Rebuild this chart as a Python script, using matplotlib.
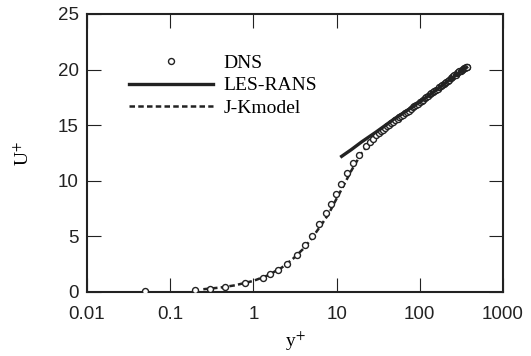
import numpy as np
import matplotlib
matplotlib.use("Agg")
import matplotlib.pyplot as plt
from matplotlib.ticker import NullLocator, FixedLocator, FixedFormatter

#-------------------#
# Data
#-------------------#
dns_y = [0.05, 0.2, 0.3, 0.45, 0.8, 1.3, 1.6, 2.0, 2.5, 3.3, 4.2, 5.0, 6.2, 7.5,
         8.5, 9.8, 11.2, 13.2, 15.9, 18.7, 22.4, 25.0, 27.5, 30.0, 32.0, 34.0,
         36.0, 38.0, 40.5, 43.0, 45.5, 48.0, 51.0, 54.0, 57.0, 60.0, 63.5, 67.0,
         70.5, 74.0, 78.0, 82.0, 86.0, 90.0, 95.0, 100.0, 105.0, 110.0, 115.0,
         120.0, 126.0, 132.0, 138.0, 144.0, 150.0, 157.0, 164.0, 171.0, 178.0,
         185.0, 193.0, 201.0, 209.0, 217.0, 225.0, 234.0, 243.0, 252.0, 261.0,
         270.0, 280.0, 290.0, 300.0, 310.0, 320.0, 330.0, 340.0, 350.0, 358.0,
         365.0, 372.0]
dns_u = [0.05, 0.2, 0.3, 0.45, 0.8, 1.3, 1.6, 2.0, 2.5, 3.3, 4.2, 5.0, 6.1, 7.1,
         7.9, 8.8, 9.7, 10.7, 11.6, 12.3, 13.1, 13.5, 13.8, 14.1, 14.3, 14.45,
         14.6, 14.75, 14.9, 15.05, 15.2, 15.3, 15.45, 15.6, 15.7, 15.8, 15.95, 16.1,
         16.2, 16.3, 16.45, 16.6, 16.7, 16.8, 16.95, 17.1, 17.2, 17.3, 17.45,
         17.55, 17.65, 17.8, 17.9, 18.0, 18.1, 18.2, 18.3, 18.4, 18.5,
         18.6, 18.7, 18.8, 18.9, 19.0, 19.1, 19.2, 19.3, 19.4, 19.5,
         19.55, 19.65, 19.75, 19.85, 19.9, 20.0, 20.05, 20.1, 20.15, 20.2,
         20.25, 20.25]

les_y = [11.5, 15.0, 20.0, 30.0, 50.0, 80.0, 120.0, 180.0, 250.0, 320.0, 365.0]
les_u = [12.2, 12.8, 13.5, 14.4, 15.6, 16.6, 17.5, 18.5, 19.3, 19.9, 20.2]

jk_y = [0.25, 0.4, 0.6, 1.0, 1.5, 2.2, 3.0, 4.0, 5.0, 6.5, 8.0, 10.0, 12.0,
        15.0, 20.0, 25.0, 30.0, 40.0, 60.0, 100.0, 150.0, 200.0, 280.0, 365.0]
jk_u = [0.25, 0.4, 0.6, 1.0, 1.5, 2.2, 3.0, 3.9, 4.8, 6.0, 7.0, 8.4, 9.5,
        10.9, 12.5, 13.4, 14.0, 14.9, 15.9, 17.1, 18.1, 18.8, 19.6, 20.2]

xticks = [0.01, 0.1, 1, 10, 100, 1000]
xtick_labels = ["0.01", "0.1", "1", "10", "100", "1000"]
yticks = [0, 5, 10, 15, 20, 25]

#-------------------#
# Style
#-------------------#
plt.rcParams['font.family'] = ['Liberation Sans', 'DejaVu Sans']
plt.rcParams['mathtext.fontset'] = 'stix'
serif = ['Liberation Serif', 'DejaVu Serif']
ink = '#222222'

#-------------------#
# Plot
#-------------------#
fig = plt.figure(figsize=(5.31, 3.56), dpi=100)
ax = fig.add_axes([87 / 531, 1 - 292 / 356, 416 / 531, 278 / 356])

ax.plot(dns_y, dns_u, linestyle='none', marker='o', markersize=4.3,
        markerfacecolor='white', markeredgecolor=ink, markeredgewidth=1.0,
        label='DNS', zorder=3)
ax.plot(les_y, les_u, color=ink, linewidth=2.4, label='LES-RANS', zorder=4)
ax.plot(jk_y, jk_u, color=ink, linewidth=1.8, linestyle=(0, (2.2, 1.3)),
        label='J-Kmodel', zorder=2)

ax.set_xscale('log')
ax.set_xlim(0.01, 1000)
ax.set_ylim(0, 25)
ax.xaxis.set_major_locator(FixedLocator(xticks))
ax.xaxis.set_major_formatter(FixedFormatter(xtick_labels))
ax.xaxis.set_minor_locator(NullLocator())
ax.set_yticks(yticks)

ax.tick_params(direction='in', length=10, width=0.8, top=True, right=True,
               labelsize=13.5, colors=ink)
ax.tick_params(axis='x', pad=10)
ax.tick_params(axis='y', pad=6)
for s in ax.spines.values():
    s.set_linewidth(1.5)
    s.set_color(ink)

ax.set_xlabel(r'y$^{+}$', family=serif, fontsize=14, labelpad=5)
ax.set_ylabel(r'U$^{+}$', family=serif, fontsize=14, labelpad=18)

leg = ax.legend(loc='upper left', bbox_to_anchor=(0.101, 0.855), frameon=False,
                numpoints=1, handlelength=4.3, handletextpad=0.55,
                labelspacing=0.25, borderpad=0, borderaxespad=0,
                prop={'family': serif, 'size': 14})

fig.savefig('out.png', dpi=100)
